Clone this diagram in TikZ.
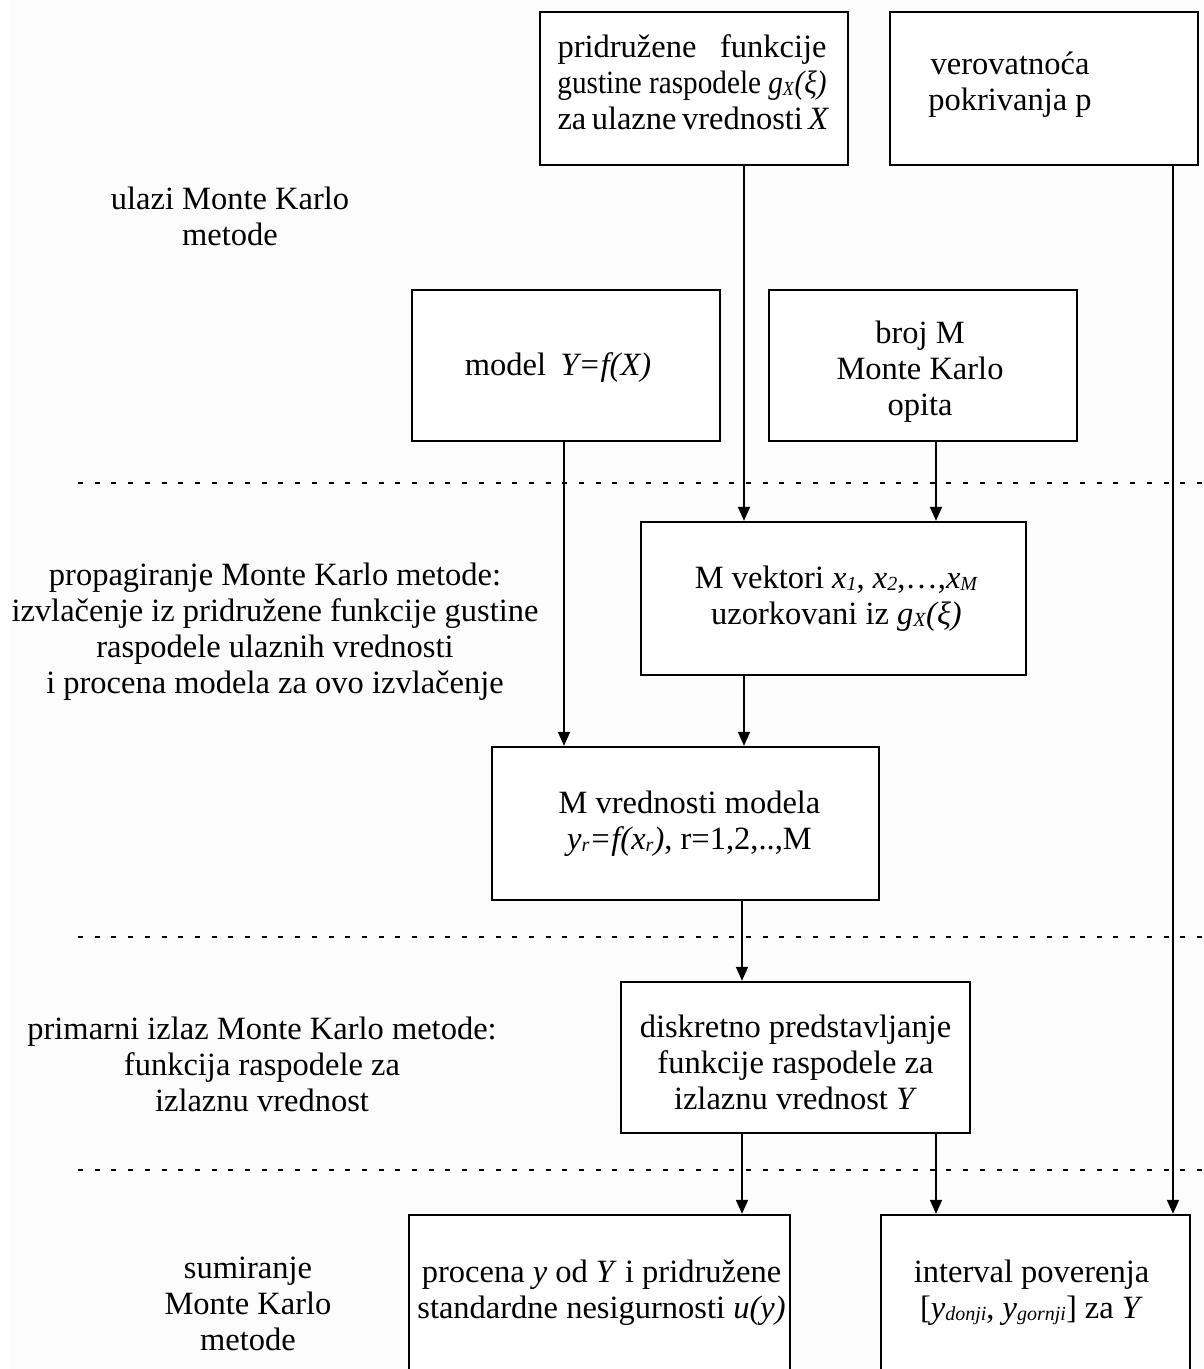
\documentclass[tikz,border=0pt]{standalone}
\usepackage{fontspec}
\usepackage{graphicx}
\setmainfont{Liberation Serif}
\usetikzlibrary{arrows.meta}
\definecolor{paper}{RGB}{252,252,252}
% small italic subscript, set close to the baseline
\newcommand{\sub}[1]{\raisebox{-2pt}{\fontsize{20}{20}\selectfont\textit{#1}}}
\begin{document}
\begin{tikzpicture}[x=1pt,y=-1pt,
  txt/.style={font=\fontsize{32.5}{36}\selectfont},
  box/.style={draw, fill=white, line width=2.4pt, inner sep=0pt},
  lbl/.style={txt, align=center, inner sep=0pt},
  arr/.style={line width=1.9pt, -{Triangle[length=14pt,width=12pt]}},
  sep/.style={line width=2.6pt, dash pattern=on 5pt off 11.7pt},
]
\useasboundingbox (0,0) rectangle (1204,1369);
\clip (0,0) rectangle (1204,1369);
\fill[white] (0,0) rectangle (1204,1369);
\fill[paper] (10,0) rectangle (1204,1369);

% section separators
\draw[sep] (78,483) -- (1204,483);
\draw[sep] (78,937) -- (1204,937);
\draw[sep] (78,1170) -- (1204,1170);

% section labels
\node[lbl] (l1) at (230,216) {ulazi Monte Karlo\\metode};
\node[lbl] (l2) at (275,632) {propagiranje Monte Karlo metode:\\izvlačenje iz pridružene funkcije gustine\\raspodele ulaznih vrednosti\\i procena modela za ovo izvlačenje};
\node[lbl] (l3) at (262,1064) {primarni izlaz Monte Karlo metode:\\funkcija raspodele za\\izlaznu vrednost};
\node[lbl] (l4) at (248,1304) {sumiranje\\Monte Karlo\\metode};

% inputs
\node[box, minimum width=308pt, minimum height=153pt] (pdf) at (694,88.5) {};
\node[lbl] (pdft) at ([xshift=-2pt,yshift=6pt]pdf.center)
  {\makebox[269pt][s]{pridružene funkcije}\\
   \resizebox{269pt}{\height}{gustine raspodele \textit{g}\sub{X}\textit{(ξ)}}\\
   \makebox[269pt][s]{za ulazne vrednosti \textit{X}}};
\node[box, minimum width=308pt, minimum height=153pt] (prob) at (1044,88.5) {};
\node[lbl] (probt) at ([xshift=-34pt,yshift=3.5pt]prob.center) {verovatnoća\\pokrivanja p};
\node[box, minimum width=308pt, minimum height=151pt] (model) at (566,365.5) {};
\node[lbl] (modelt) at ([xshift=-8pt,yshift=-2.5pt]model.center) {model\hspace{0.45em}\textit{Y=f(X)}};
\node[box, minimum width=308pt, minimum height=151pt] (trials) at (923,365.5) {};
\node[lbl] (trialst) at ([xshift=-3pt,yshift=-6.5pt]trials.center) {broj M\\Monte Karlo\\opita};

% propagation
\node[box, minimum width=385pt, minimum height=153pt] (vec) at (833.5,598.5) {};
\node[lbl] (vect) at ([xshift=3pt]vec.center)
  {M vektori \textit{x}\sub{1}, \textit{x}\sub{2},…,\textit{x}\sub{M}\\
   uzorkovani iz \textit{g}\sub{X}\textit{(ξ)}};
\node[box, minimum width=387pt, minimum height=153pt] (vals) at (685.5,823.5) {};
\node[lbl] (valst) at ([xshift=4pt]vals.center)
  {M vrednosti modela\\
   \textit{y}\sub{r}\textit{=f(x}\sub{r}\textit{)}, r=1,2,..,M};

% primary output
\node[box, minimum width=349pt, minimum height=151pt] (dist) at (795.5,1057.5) {};
\node[lbl] (distt) at ([yshift=-4.5pt]dist.center)
  {diskretno predstavljanje\\funkcije raspodele za\\izlaznu vrednost \textit{Y}};

% summary
\node[box, minimum width=381pt, minimum height=156pt] (est) at (599.5,1293) {};
\node[lbl] (estt) at ([xshift=2pt]est.center)
  {procena \textit{y} od \textit{Y} i pridružene\\standardne nesigurnosti \textit{u(y)}};
\node[box, minimum width=309pt, minimum height=156pt] (ci) at (1035.5,1293) {};
\node[lbl] (cit) at ([xshift=-4pt]ci.center)
  {interval poverenja\\{}[\textit{y}\sub{donji}, \textit{y}\sub{gornji}] za \textit{Y}};

% connectors
\draw[arr] ([xshift=50pt]pdf.south) -- ([xshift=50pt]pdf.south |- vec.north);
\draw[arr] ([xshift=13pt]trials.south) -- ([xshift=13pt]trials.south |- vec.north);
\draw[arr] ([xshift=-2pt]model.south) -- ([xshift=-2pt]model.south |- vals.north);
\draw[arr] ([xshift=-89.5pt]vec.south) -- ([xshift=-89.5pt]vec.south |- vals.north);
\draw[arr] ([xshift=56.5pt]vals.south) -- ([xshift=56.5pt]vals.south |- dist.north);
\draw[arr] ([xshift=-53.5pt]dist.south) -- ([xshift=-53.5pt]dist.south |- est.north);
\draw[arr] ([xshift=140.5pt]dist.south) -- ([xshift=140.5pt]dist.south |- ci.north);
\draw[arr] ([xshift=129pt]prob.south) -- ([xshift=129pt]prob.south |- ci.north);
\end{tikzpicture}
\end{document}
